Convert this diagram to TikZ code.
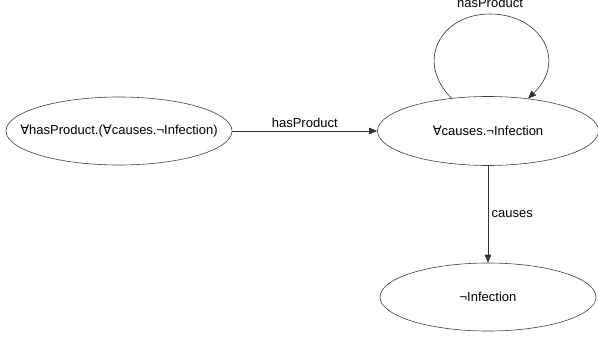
\documentclass[tikz,border=0pt]{standalone}
\usepackage{fontspec}
\setmainfont{Liberation Sans}
\newfontfamily\symbfont{DejaVu Sans}
\newcommand{\allsym}{{\symbfont\char"2200}}
\usetikzlibrary{shapes.geometric, arrows.meta}

\begin{document}
\begin{tikzpicture}[x=1pt, y=-1pt, -{Triangle[length=8pt, width=6.5pt]}, auto,
        every node/.style={font=\fontsize{13}{15}\selectfont},
        concept/.style={draw=black!75, line width=0.6pt, ellipse, inner xsep=-60pt, inner ysep=0pt},
        link/.style={line width=0.6pt, draw=black!80}]
        \useasboundingbox (0,0) rectangle (598,340);

        \node[concept, minimum width=226pt, minimum height=68pt](HP) at (119,131){\allsym hasProduct.(\allsym causes.¬Infection)};
        \node[concept, minimum width=221pt, minimum height=69pt](C) at (488,131){\allsym causes.¬Infection};
        \node[concept, minimum width=216pt, minimum height=68pt](NI) at (488,297){¬Infection};

        \path(HP) edge [link] node {hasProduct}(C);
        \path(C) edge [link] node {causes}(NI);

        % loop on C
        \draw[link](C.138) .. controls (415,62) and (440,14) .. (490,14)
            node[anchor=base, yshift=7pt] {hasProduct}
            .. controls (540,14) and (568,60) .. (C.39);

    \end{tikzpicture}
\end{document}
